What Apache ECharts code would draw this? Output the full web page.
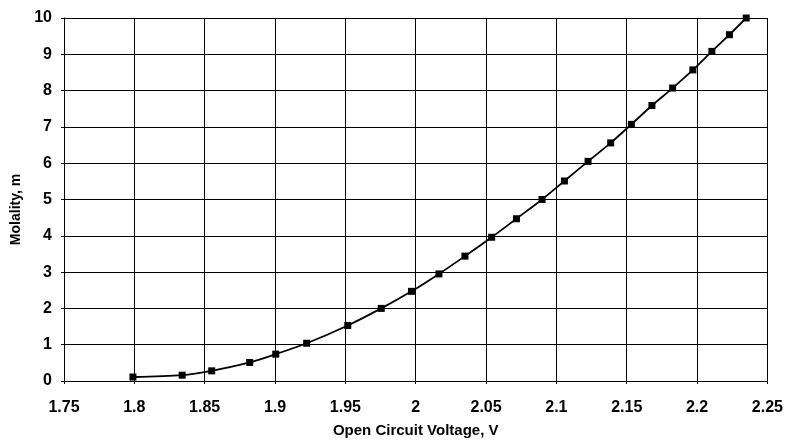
<!DOCTYPE html>
<html>
<head>
<meta charset="utf-8">
<script src="https://cdn.jsdelivr.net/npm/echarts@6/dist/echarts.min.js"></script>
<style>
html,body{margin:0;padding:0;background:#fff;}
#chart{width:786px;height:447px;}
</style>
</head>
<body>
<div id="chart"></div>
<script>
const voltage = [1.799, 1.834, 1.855, 1.882, 1.9005, 1.9225, 1.9517, 1.9755, 1.997, 2.0165, 2.035, 2.054, 2.0716, 2.0898, 2.1057, 2.1225, 2.1386, 2.1533, 2.1679, 2.1826, 2.197, 2.2105, 2.223, 2.2349];
const molality = [0.11, 0.16, 0.28, 0.51, 0.74, 1.04, 1.53, 2.00, 2.47, 2.95, 3.44, 3.96, 4.47, 5.00, 5.51, 6.05, 6.56, 7.07, 7.59, 8.07, 8.57, 9.08, 9.54, 10.0];
const xTitle = 'Open Circuit Voltage, V';
const yTitle = 'Molality, m';

const font = 'Liberation Sans, Arial, Helvetica, sans-serif';
const chart = echarts.init(document.getElementById('chart'), null, {renderer: 'canvas'});
chart.setOption({
  animation: false,
  backgroundColor: '#fff',
  grid: {left: 64, right: 17, top: 18, bottom: 66},
  xAxis: {
    type: 'value', min: 1.75, max: 2.25, interval: 0.05,
    name: xTitle, nameLocation: 'middle', nameGap: 42,
    nameTextStyle: {color: '#000', fontFamily: font, fontWeight: 'bold', fontSize: 15},
    axisLine: {show: true, lineStyle: {color: '#000', width: 1}},
    axisTick: {show: true, inside: false, length: 3, lineStyle: {color: '#000'}},
    axisLabel: {color: '#000', fontFamily: font, fontWeight: 'bold', fontSize: 16, margin: 19,
      formatter: v => String(parseFloat(v.toFixed(2)))},
    splitLine: {show: true, lineStyle: {color: '#000', width: 1}}
  },
  yAxis: {
    type: 'value', min: 0, max: 10, interval: 1,
    name: yTitle, nameLocation: 'middle', nameGap: 41, nameRotate: 90,
    nameTextStyle: {color: '#000', fontFamily: font, fontWeight: 'bold', fontSize: 14, padding: [0, 20, 0, 0]},
    axisLine: {show: true, lineStyle: {color: '#000', width: 1}},
    axisTick: {show: true, inside: false, length: 3, lineStyle: {color: '#000'}},
    axisLabel: {color: '#000', fontFamily: font, fontWeight: 'bold', fontSize: 16, margin: 12},
    splitLine: {show: true, lineStyle: {color: '#000', width: 1}}
  },
  series: [{
    type: 'line',
    data: voltage.map((v, i) => [v, molality[i]]),
    smooth: 0.3,
    symbol: 'rect', symbolSize: 7,
    itemStyle: {color: '#000'},
    lineStyle: {color: '#000', width: 1.8}
  }]
});
</script>
</body>
</html>
